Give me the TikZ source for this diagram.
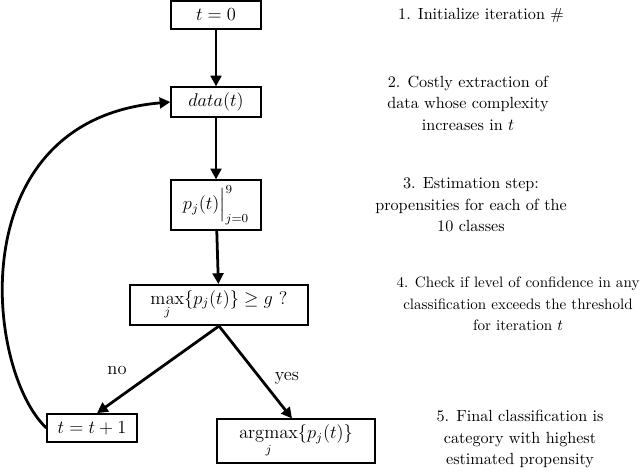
\documentclass[tikz,border=0pt]{standalone}
\usepackage{amsmath}
\usetikzlibrary{arrows.meta}

\begin{document}
\begin{tikzpicture}[x=0.65pt, y=-0.65pt,
        box/.style={draw, line width=1.3pt, inner sep=0pt, minimum width=58pt, minimum height=18pt, font=\large},
        flow/.style={line width=1.8pt, -{Triangle[length=7pt, width=7pt]}},
        note/.style={align=center, font=\fontsize{10.5}{14}\selectfont}]
            \useasboundingbox (0, 0) rectangle (640, 474);
            % flow chart
            \node[box] (init) at (216, 15) {\(t = 0\)};
            \node[box, minimum height=19pt] (data) at (216, 102) {\(data(t)\)};
            \node[box, minimum height=32pt] (prop) at (216, 205) {\(p_j(t)\Big|_{j=0}^{9}\)};
            \node[box, minimum width=116pt, minimum height=26pt] (check) at (219, 305) {\(\max\limits_j\{p_j(t)\} \geq g\) ?};
            \node[box] (next) at (92, 428) {\(t = t + 1\)};
            \node[box, minimum width=103pt, minimum height=28pt] (final) at (296, 441) {\(\operatorname*{argmax}\limits_j\{p_j(t)\}\)};
            \draw[flow] (init) -- (data);
            \draw[flow] (data) -- (prop);
            \draw[flow] (prop) -- (check);
            \draw[flow] (check.south) -- (next.north -| 97, 0);
            \draw[flow] (check.south) -- (final.north -| 292, 0);
            \node[font=\large] (no) at (117, 370) {no};
            \node[font=\large] (yes) at (287, 378) {yes};
            \draw[flow] (next.west) .. controls (-15, 370) and (-40, 120) .. (data.west);
            % notes on the right
            \node[note] (n1) at (481, 15) {1. Initialize iteration \#};
            \node[note] (n2) at (468, 103) {2. Costly extraction of\\ data whose complexity\\ increases in \(t\)};
            \node[note] (n3) at (471, 205) {3. Estimation step:\\ propensities for each of the\\ 10 classes};
            \node[note, font=\fontsize{9.8}{14}\selectfont] (n4) at (518, 304) {4. Check if level of confidence in any\\ classification exceeds the threshold\\ for iteration \(t\)};
            \node[note] (n5) at (520, 439) {5. Final classification is\\ category with highest\\ estimated propensity};
        \end{tikzpicture}
\end{document}
